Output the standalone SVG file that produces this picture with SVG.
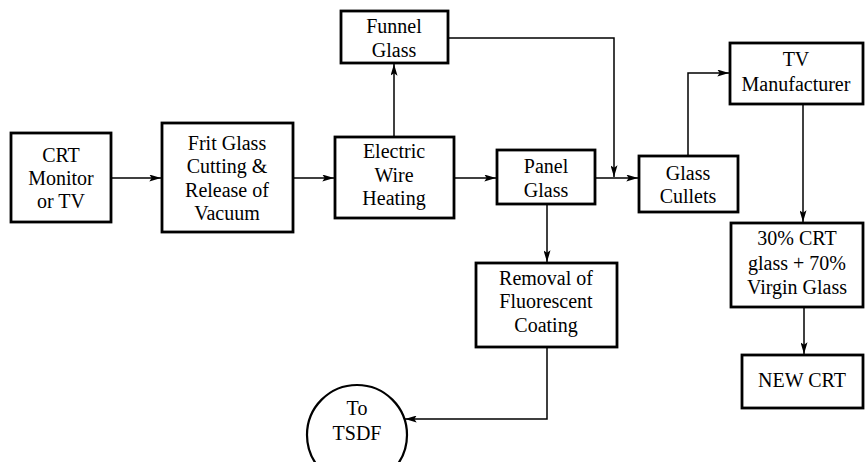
<svg xmlns="http://www.w3.org/2000/svg" width="865" height="462" viewBox="0 0 865 462">
<defs>
<marker id="ah" viewBox="0 0 10 6" refX="10" refY="3" markerWidth="12" markerHeight="7" markerUnits="userSpaceOnUse" orient="auto">
<path d="M0,0 L10,3 L0,6 L2,3 Z" fill="#000"/>
</marker>
</defs>
<style>
.box{fill:#fff;stroke:#000;stroke-width:2.8}
.c{fill:none;stroke:#000;stroke-width:1.5;marker-end:url(#ah)}
.t{font-family:'Liberation Serif',Tinos,'Noto Serif','DejaVu Serif',serif;font-size:20px;fill:#000;text-anchor:middle}
</style>
<rect width="865" height="462" fill="#fff"/>
<g id="connectors">
<path class="c" d="M111,178 H161"/>
<path class="c" d="M293,178 H334"/>
<path class="c" d="M394,137 V64"/>
<path class="c" d="M454,178 H496"/>
<path class="c" d="M448,38 H614 V177"/>
<path class="c" d="M595,178 H638"/>
<path class="c" d="M688,156 V73 H729"/>
<path class="c" d="M803,104 V222"/>
<path class="c" d="M804,307 V354"/>
<path class="c" d="M547,204 V262"/>
<path class="c" d="M547,347 V419 H405"/>
</g>
<g class="t">
<g id="crt">
<rect class="box" x="11" y="133" width="100" height="89"/>
<text x="61" y="162">CRT</text>
<text x="61" y="185">Monitor</text>
<text x="61" y="208">or TV</text>
</g>
<g id="frit">
<rect class="box" x="162" y="123" width="131" height="109"/>
<text x="227" y="150">Frit Glass</text>
<text x="227" y="173">Cutting &amp;</text>
<text x="227" y="197">Release of</text>
<text x="227" y="220">Vacuum</text>
</g>
<g id="electric">
<rect class="box" x="335" y="137" width="119" height="81"/>
<text x="394" y="158">Electric</text>
<text x="394" y="182">Wire</text>
<text x="394" y="205">Heating</text>
</g>
<g id="funnel">
<rect class="box" x="341" y="11" width="107" height="52"/>
<text x="394" y="33">Funnel</text>
<text x="394" y="57">Glass</text>
</g>
<g id="panel">
<rect class="box" x="497" y="150" width="98" height="54"/>
<text x="546" y="173">Panel</text>
<text x="546" y="197">Glass</text>
</g>
<g id="cullets">
<rect class="box" x="639" y="156" width="99" height="56"/>
<text x="688" y="180">Glass</text>
<text x="688" y="203">Cullets</text>
</g>
<g id="tv">
<rect class="box" x="730" y="43" width="133" height="61"/>
<text x="796" y="66">TV</text>
<text x="796" y="91">Manufacturer</text>
</g>
<g id="mix">
<rect class="box" x="731" y="223" width="132" height="84"/>
<text x="797" y="245">30% CRT</text>
<text x="797" y="270">glass + 70%</text>
<text x="797" y="294">Virgin Glass</text>
</g>
<g id="newcrt">
<rect class="box" x="742" y="355" width="121" height="53"/>
<text x="802" y="387">NEW CRT</text>
</g>
<g id="removal">
<rect class="box" x="476" y="263" width="141" height="84"/>
<text x="546" y="285">Removal of</text>
<text x="546" y="308">Fluorescent</text>
<text x="546" y="332">Coating</text>
</g>
<g id="tsdf">
<circle cx="357" cy="435" r="50" fill="#fff" stroke="#000" stroke-width="2.2"/>
<text x="357" y="415">To</text>
<text x="357" y="440">TSDF</text>
</g>
</g>
</svg>
